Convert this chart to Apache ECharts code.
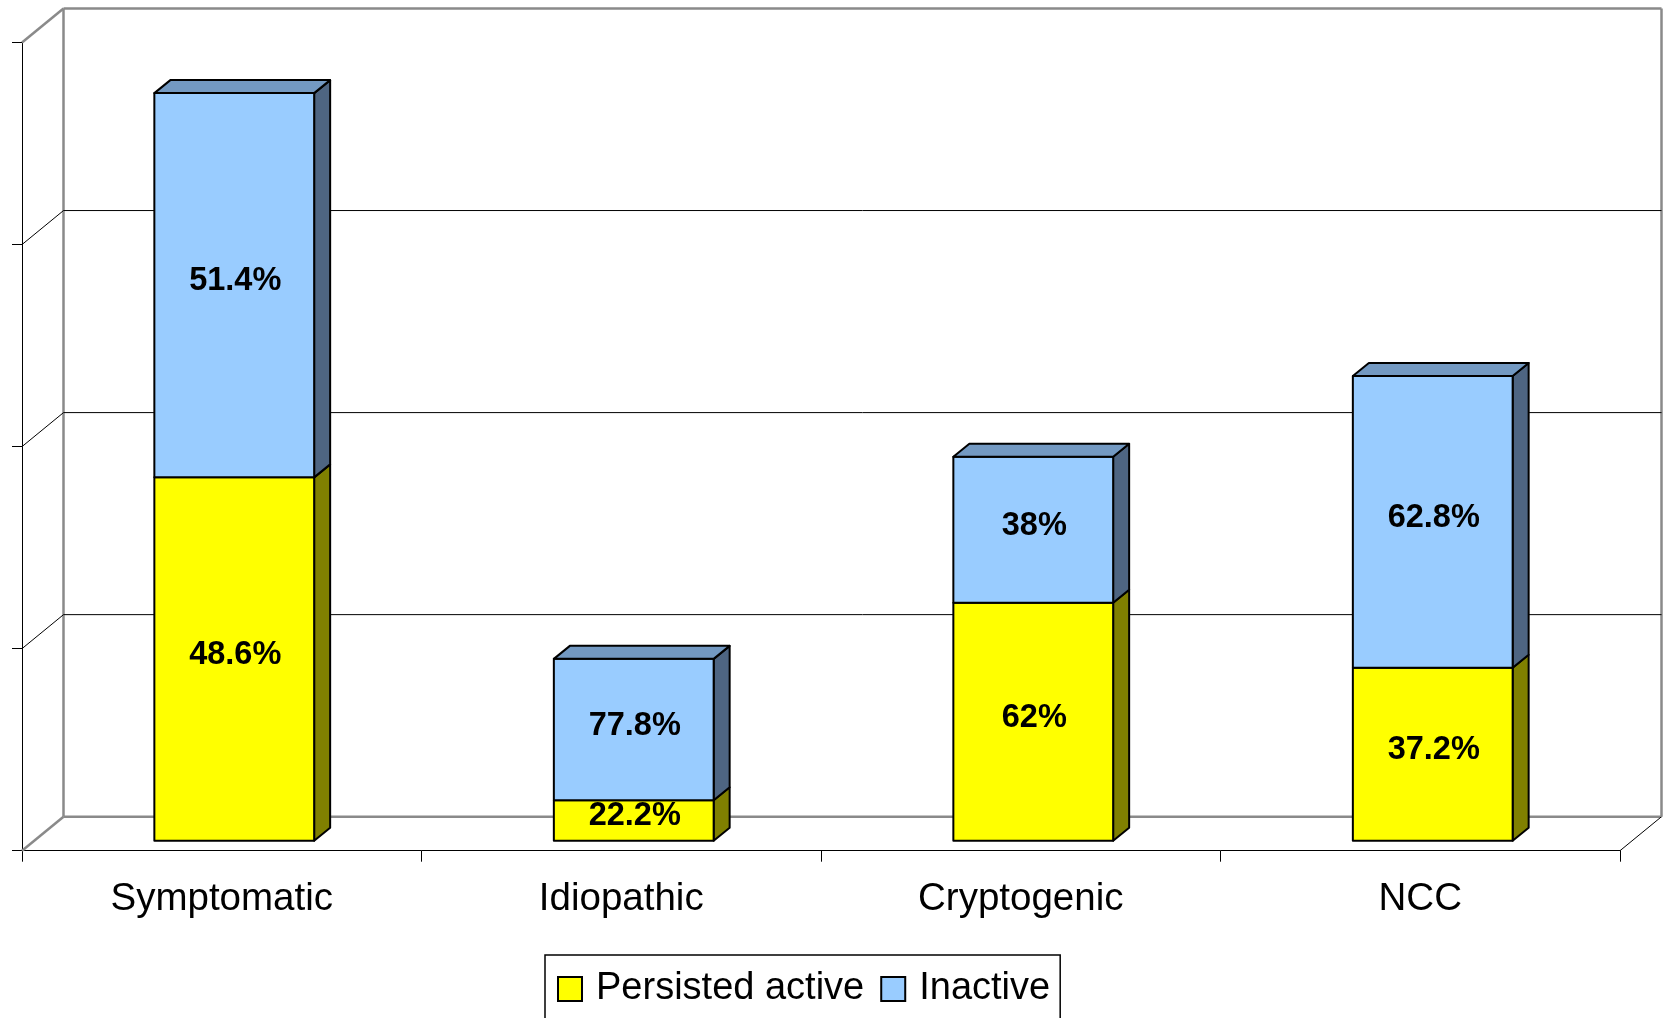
<!DOCTYPE html>
<html>
<head>
<meta charset="utf-8">
<script src="https://cdn.jsdelivr.net/npm/echarts@6/dist/echarts.min.js"></script>
<style>
  html, body { margin: 0; padding: 0; background: #fff; }
  #chart { width: 1666px; height: 1018px; }
</style>
</head>
<body>
<div id="chart"></div>
<script>
// Seizure type groups and the share of patients in each outcome
const categories = ['Symptomatic', 'Idiopathic', 'Cryptogenic', 'NCC'];
const groupTotals = [37, 9, 19, 23];
const activePct = [48.6, 22.2, 62, 37.2];
const inactivePct = [51.4, 77.8, 38, 62.8];
const seriesNames = ['Persisted active', 'Inactive'];
const yTicks = [0, 10, 20, 30, 40];

// 3D look: oblique offsets for the back wall, the bar front and the bar depth
const WALL_DX = 41.5, WALL_DY = -34;
const BAR_DX = 12.5, BAR_DY = -10;
const DEPTH_DX = 16, DEPTH_DY = -13;
const FONT = '"Liberation Sans", Arial, sans-serif';

const faces = [
  { front: '#FFFF00', side: '#808000', top: '#B3B300' },
  { front: '#99CCFF', side: '#4E6582', top: '#7399C2' }
];

// stacked segment data: [category index, base value, top value, percent]
const activeData = categories.map((c, i) => {
  const h = groupTotals[i] * activePct[i] / 100;
  return [i, 0, h, activePct[i]];
});
const inactiveData = categories.map((c, i) => {
  const base = groupTotals[i] * activePct[i] / 100;
  return [i, base, base + groupTotals[i] * inactivePct[i] / 100, inactivePct[i]];
});

function barRenderer(segIdx, isTop) {
  return function (params, api) {
    const idx = api.value(0);
    const pb = api.coord([idx, api.value(1)]);
    const pt = api.coord([idx, api.value(2)]);
    const bw = api.size([1, 0])[0] * 0.4;
    const xl = pb[0] - bw / 2 + BAR_DX;
    const xr = xl + bw;
    const yb = pb[1] + BAR_DY;
    const yt = pt[1] + BAR_DY;
    const col = faces[segIdx];
    const stroke = { stroke: '#000', lineWidth: 2, lineJoin: 'round' };
    const children = [
      {
        type: 'polygon',
        shape: { points: [[xr, yb], [xr, yt], [xr + DEPTH_DX, yt + DEPTH_DY], [xr + DEPTH_DX, yb + DEPTH_DY]] },
        style: Object.assign({ fill: col.side }, stroke)
      },
      {
        type: 'rect',
        shape: { x: xl, y: yt, width: bw, height: yb - yt },
        style: Object.assign({ fill: col.front }, stroke)
      }
    ];
    if (isTop) {
      children.push({
        type: 'polygon',
        shape: { points: [[xl, yt], [xr, yt], [xr + DEPTH_DX, yt + DEPTH_DY], [xl + DEPTH_DX, yt + DEPTH_DY]] },
        style: Object.assign({ fill: col.top }, stroke)
      });
    }
    children.push({
      type: 'text',
      style: {
        text: api.value(3) + '%',
        x: (xl + xr) / 2 + 1,
        y: (yb + yt) / 2 - 4,
        align: 'center',
        verticalAlign: 'middle',
        fontFamily: FONT,
        fontSize: 32.5,
        fontWeight: 'bold',
        fill: '#000'
      }
    });
    return { type: 'group', children: children };
  };
}

// back wall, left wall and floor edges, one item per y tick
function wallRenderer(params, api) {
  const v = api.value(1);
  const cs = params.coordSys;
  const x0 = cs.x, x1 = cs.x + cs.width;
  const y = api.coord([0, v])[1];
  const yMax = api.coord([0, yTicks[yTicks.length - 1]])[1];
  const edge = v === yTicks[0] || v === yTicks[yTicks.length - 1];
  const gray = { stroke: '#8A8A8A', lineWidth: 2.5 };
  const thin = { stroke: '#000', lineWidth: 1 };
  const children = [
    {
      type: 'line',
      shape: { x1: x0 + WALL_DX, y1: y + WALL_DY, x2: x1 + WALL_DX, y2: y + WALL_DY },
      style: edge ? gray : thin
    },
    {
      type: 'line',
      shape: { x1: x0, y1: y, x2: x0 + WALL_DX, y2: y + WALL_DY },
      style: edge ? gray : thin
    }
  ];
  if (v === yTicks[0]) {
    children.push(
      { type: 'line', shape: { x1: x1, y1: y, x2: x1 + WALL_DX, y2: y + WALL_DY }, style: thin },
      { type: 'line', shape: { x1: x0 + WALL_DX, y1: y + WALL_DY, x2: x0 + WALL_DX, y2: yMax + WALL_DY }, style: gray },
      { type: 'line', shape: { x1: x1 + WALL_DX, y1: y + WALL_DY, x2: x1 + WALL_DX, y2: yMax + WALL_DY }, style: gray }
    );
  }
  return { type: 'group', children: children };
}

const chart = echarts.init(document.getElementById('chart'), null, { renderer: 'canvas' });
chart.setOption({
  animation: false,
  backgroundColor: '#fff',
  grid: { left: 22, right: 46, top: 42.5, bottom: 167.3, containLabel: false },
  xAxis: {
    type: 'category',
    data: categories,
    axisLine: { lineStyle: { color: '#000', width: 1 } },
    axisTick: { show: true, length: 11, lineStyle: { color: '#000' } },
    axisLabel: { fontFamily: FONT, fontSize: 38.5, color: '#000', margin: 29 },
    splitLine: { show: false }
  },
  yAxis: {
    type: 'value',
    min: 0,
    max: 40,
    interval: 10,
    axisLine: { show: true, lineStyle: { color: '#000', width: 1 } },
    axisTick: { show: true, length: 10, lineStyle: { color: '#000' } },
    axisLabel: { show: false },
    splitLine: { show: false }
  },
  legend: {
    left: 545,
    top: 955,
    orient: 'horizontal',
    padding: [15, 10, 30, 12],
    itemGap: 16,
    itemWidth: 24,
    itemHeight: 24,
    icon: 'rect',
    borderColor: '#000',
    borderWidth: 1.5,
    selectedMode: false,
    textStyle: { fontFamily: FONT, fontSize: 38, color: '#000', padding: [0, 0, 0, 9] },
    data: [
      { name: seriesNames[0], itemStyle: { color: faces[0].front, borderColor: '#000', borderWidth: 2 } },
      { name: seriesNames[1], itemStyle: { color: faces[1].front, borderColor: '#000', borderWidth: 2 } }
    ]
  },
  series: [
    {
      type: 'custom',
      name: 'walls',
      silent: true,
      renderItem: wallRenderer,
      encode: { x: 0, y: 1 },
      data: yTicks.map(t => [0, t]),
      z: 1
    },
    {
      type: 'custom',
      name: seriesNames[0],
      renderItem: barRenderer(0, false),
      encode: { x: 0, y: [1, 2] },
      itemStyle: { color: faces[0].front },
      data: activeData,
      z: 3
    },
    {
      type: 'custom',
      name: seriesNames[1],
      renderItem: barRenderer(1, true),
      encode: { x: 0, y: [1, 2] },
      itemStyle: { color: faces[1].front },
      data: inactiveData,
      z: 3
    }
  ]
});
</script>
</body>
</html>
